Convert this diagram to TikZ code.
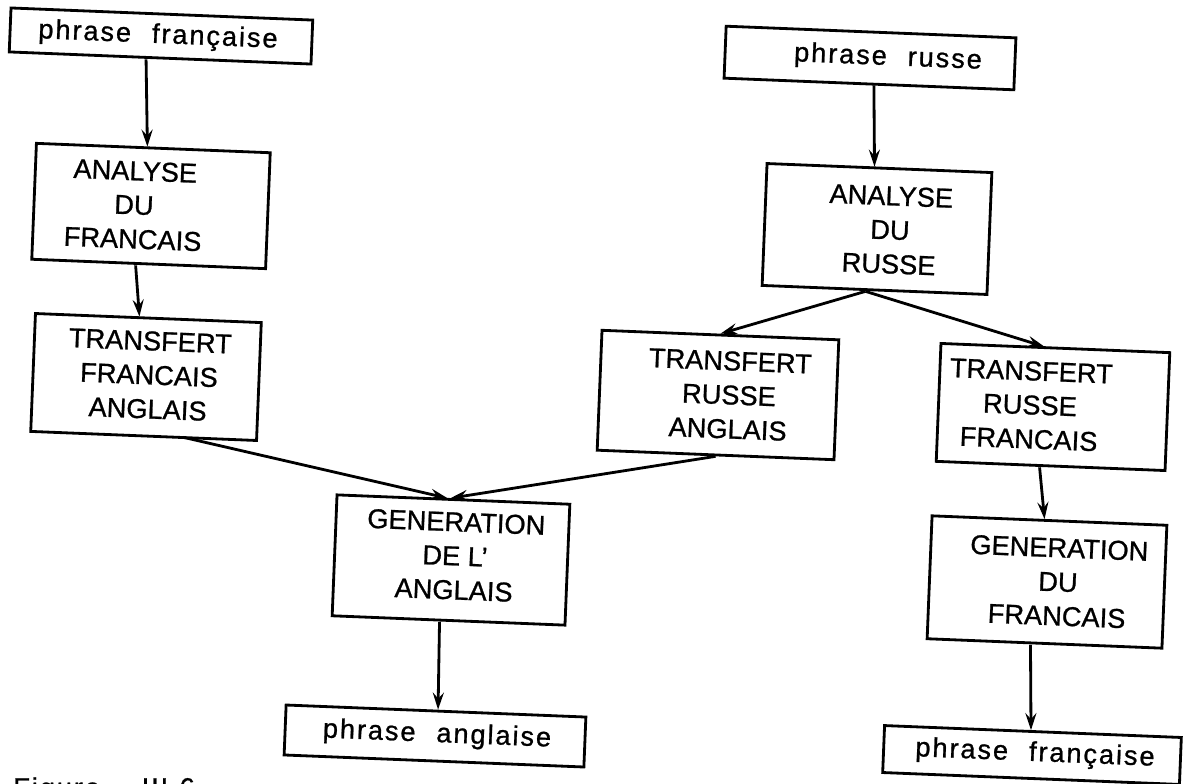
\documentclass[tikz,border=0pt]{standalone}
\usepackage{fontspec}
\setmainfont[FakeBold=0.9]{Liberation Sans}
\newfontfamily\phrasefont[LetterSpace=7,WordSpace=2.2,FakeBold=0.9]{Liberation Sans}
\usetikzlibrary{arrows.meta}
\tikzset{
  bx/.style 2 args={draw, line width=1.6pt, rotate=-2.3, inner sep=0pt,
    minimum width=#1*0.02cm, minimum height=#2*0.02cm},
  tx/.style={rotate=-2.3, align=center, inner sep=0pt,
    font=\fontsize{15.5}{19.4}\selectfont},
  ptx/.style={rotate=-2.3, align=center, inner sep=0pt,
    font=\fontsize{15.5}{19.4}\selectfont\phrasefont},
  arr/.style={line width=1.6pt, -{Stealth[length=0.34cm,width=0.22cm,inset=0.12cm]}}
}
\begin{document}
\begin{tikzpicture}[x=0.02cm,y=-0.02cm]
\useasboundingbox (0,0) rectangle (1183,784);
% boxes
\node[bx={302}{44}] (pf1) at (161,36) {};
\node[bx={234}{116}] (anfr) at (151,206) {};
\node[bx={226}{118}] (trfa) at (146,377) {};
\node[bx={290}{52}] (phru) at (870,58) {};
\node[bx={225}{122}] (anru) at (877,229) {};
\node[bx={237}{120}] (trra) at (718,395) {};
\node[bx={229}{118}] (trrf) at (1053,407) {};
\node[bx={233}{121}] (genan) at (451,560) {};
\node[bx={300}{50}] (phan) at (435,736) {};
\node[bx={235}{123}] (genfr) at (1047,582) {};
\node[bx={297}{47}] (pf2) at (1032,755) {};
% texts
\node[ptx] (pf1t) at (158,36) {phrase française};
\node[tx] (anfrt) at (134,205) {ANALYSE\\DU\\FRANCAIS};
\node[tx] (trfat) at (149,375) {TRANSFERT\\FRANCAIS\\ANGLAIS};
\node[ptx] (phrut) at (888,58) {phrase russe};
\node[tx] (anrut) at (890,230) {ANALYSE\\DU\\RUSSE};
\node[tx] (trrat) at (729,395) {TRANSFERT\\RUSSE\\ANGLAIS};
\node[tx] (trrft) at (1030,405) {TRANSFERT\\RUSSE\\FRANCAIS};
\node[tx] (genant) at (455,556) {GENERATION\\DE L'\\ANGLAIS};
\node[ptx] (phant) at (437,735) {phrase anglaise};
\node[tx] (genfrt) at (1058,582) {GENERATION\\DU\\FRANCAIS};
\node[ptx] (pf2t) at (1035,754) {phrase française};
\node[anchor=north west, inner sep=0pt, font=\fontsize{15.5}{19}\selectfont\phrasefont] (cap) at (13,777) {Figure \ III.6};
% arrows
\draw[arr] ([xshift=-0.28cm]pf1.south) -- ([xshift=-0.12cm]anfr.north);
\draw[arr] ([xshift=-0.26cm]anfr.south) -- ([xshift=-0.18cm]trfa.north);
\draw[arr] ([xshift=0.1cm]phru.south) -- ([xshift=-0.1cm]anru.north);
\coordinate (br) at ([xshift=-0.18cm]anru.south);
\draw[arr] (br) -- (trra.north);
\draw[arr] (br) -- ([xshift=-0.22cm]trrf.north);
\draw[arr] ([xshift=0.8cm]trfa.south) -- ([xshift=-0.12cm]genan.north);
\draw[arr] (trra.south) -- ([xshift=-0.06cm]genan.north);
\draw[arr] ([xshift=-0.22cm]trrf.south) -- ([xshift=-0.1cm]genfr.north);
\draw[arr] ([xshift=-0.18cm]genan.south) -- ([xshift=0.04cm]phan.north);
\draw[arr] ([xshift=-0.28cm]genfr.south) -- ([xshift=-0.04cm]pf2.north);
\end{tikzpicture}
\end{document}
